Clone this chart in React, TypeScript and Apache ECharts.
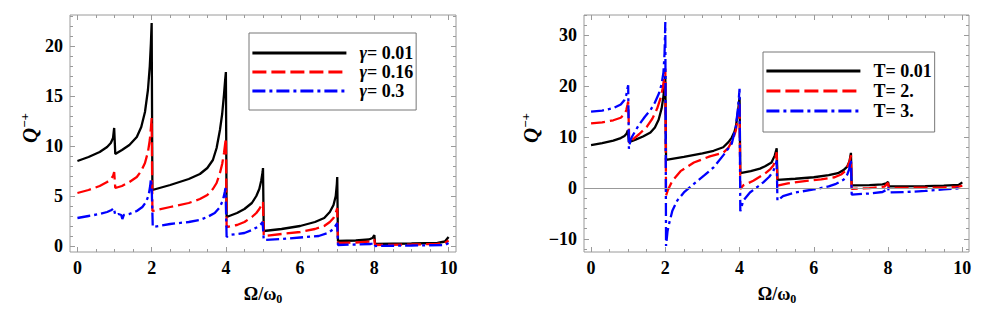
import React, { useEffect, useRef } from 'react';
import * as echarts from 'echarts';

// ---------- data ----------
const gammaNames = ['γ= 0.01', 'γ= 0.16', 'γ= 0.3'];
const tempNames = ['T= 0.01', 'T= 2.', 'T= 3.'];

const xLabelValues = [0, 2, 4, 6, 8, 10];
const leftYLabelValues = [0, 5, 10, 15, 20];
const rightYLabelValues = [-10, 0, 10, 20, 30];

// left panel: gamma = 0.01
const gamma001: number[][] = [
  [0, 8.5], [0.3, 8.9], [0.6, 9.4], [0.8, 9.9], [0.9, 10.3], [0.96, 10.8], [0.99, 11.8],
  [1.02, 9.2], [1.2, 9.6], [1.4, 10.1], [1.6, 10.9], [1.72, 11.9], [1.82, 13.4], [1.9, 15.6], [1.95, 18.0], [1.98, 20.3], [2.0, 22.3],
  [2.02, 5.6], [2.5, 6.1], [3.0, 6.7], [3.3, 7.2], [3.5, 7.8], [3.65, 8.6], [3.75, 9.8], [3.84, 11.6], [3.9, 13.2], [3.95, 15.2], [3.98, 16.6], [4.0, 17.4],
  [4.02, 2.9], [4.3, 3.3], [4.5, 3.7], [4.7, 4.3], [4.82, 5.0], [4.9, 5.7], [4.95, 6.5], [4.99, 7.4], [5.0, 7.8],
  [5.02, 1.5], [5.5, 1.7], [6.0, 2.0], [6.4, 2.4], [6.65, 2.8], [6.8, 3.4], [6.9, 4.1], [6.96, 5.0], [6.99, 6.2], [7.0, 6.9],
  [7.02, 0.5], [7.5, 0.55], [7.85, 0.65], [7.95, 0.8], [8.0, 1.1],
  [8.02, 0.2], [9.0, 0.25], [9.7, 0.3], [9.9, 0.45], [10.0, 0.9],
];
// left panel: gamma = 0.16
const gamma016: number[][] = [
  [0, 5.3], [0.3, 5.6], [0.6, 6.0], [0.8, 6.4], [0.9, 6.7], [0.96, 7.0], [0.99, 7.4],
  [1.02, 5.8], [1.2, 6.0], [1.4, 6.4], [1.6, 6.9], [1.72, 7.5], [1.82, 8.3], [1.9, 9.4], [1.95, 10.6], [1.98, 11.8], [2.0, 12.8],
  [2.02, 3.5], [2.5, 3.9], [3.0, 4.3], [3.3, 4.7], [3.5, 5.1], [3.65, 5.7], [3.75, 6.3], [3.84, 7.3], [3.9, 8.2], [3.95, 9.3], [3.98, 10.2], [4.0, 10.8],
  [4.02, 1.9], [4.3, 2.1], [4.5, 2.4], [4.7, 2.9], [4.82, 3.3], [4.9, 3.7], [4.96, 4.1], [5.0, 4.4],
  [5.02, 1.0], [5.5, 1.2], [6.0, 1.4], [6.4, 1.7], [6.65, 2.0], [6.8, 2.4], [6.9, 2.8], [6.96, 3.3], [7.0, 3.8],
  [7.02, 0.3], [7.5, 0.35], [7.9, 0.45], [8.0, 0.65],
  [8.02, 0.1], [9.0, 0.15], [9.7, 0.2], [9.9, 0.3], [10.0, 0.55],
];
// left panel: gamma = 0.3
const gamma03: number[][] = [
  [0, 2.8], [0.3, 3.0], [0.6, 3.2], [0.8, 3.4], [0.92, 3.6], [0.98, 3.8],
  [1.02, 3.1], [1.1, 3.2], [1.18, 3.1], [1.21, 2.7], [1.25, 3.1], [1.4, 3.2], [1.6, 3.5], [1.75, 3.9], [1.85, 4.4], [1.92, 5.1], [1.96, 6.0], [1.98, 6.7], [2.0, 6.0],
  [2.03, 1.9], [2.5, 2.2], [3.0, 2.4], [3.3, 2.6], [3.5, 2.9], [3.7, 3.3], [3.84, 3.9], [3.92, 4.6], [3.97, 5.4], [3.99, 5.8],
  [4.02, 0.9], [4.1, 1.1], [4.5, 1.3], [4.7, 1.6], [4.85, 1.9], [4.95, 2.2], [4.99, 2.4],
  [5.02, 0.6], [5.5, 0.7], [6.0, 0.85], [6.5, 1.0], [6.75, 1.3], [6.9, 1.7], [6.97, 2.1], [7.0, 2.3],
  [7.02, 0.1], [7.5, 0.15], [7.9, 0.2], [8.0, 0.3],
  [8.02, 0.0], [9.0, 0.05], [9.9, 0.1], [10.0, 0.3],
];
// right panel: T = 0.01
const temp001: number[][] = [
  [0, 8.4], [0.3, 8.8], [0.6, 9.3], [0.8, 9.8], [0.9, 10.2], [0.96, 10.7], [0.99, 11.3],
  [1.02, 9.0], [1.2, 9.5], [1.4, 10.1], [1.6, 10.9], [1.72, 11.9], [1.82, 13.4], [1.9, 15.6], [1.95, 18.0], [1.98, 20.3], [2.0, 22.0],
  [2.02, 5.5], [2.5, 6.1], [3.0, 6.8], [3.3, 7.3], [3.56, 8.0], [3.7, 9.0], [3.79, 9.9], [3.86, 11.0], [3.9, 12.0], [3.96, 15.2], [4.0, 17.8],
  [4.02, 2.9], [4.3, 3.3], [4.55, 3.8], [4.7, 4.3], [4.86, 5.0], [4.95, 6.4], [5.0, 7.8],
  [5.02, 1.6], [5.5, 1.8], [6.0, 2.1], [6.4, 2.5], [6.65, 2.9], [6.8, 3.5], [6.9, 4.2], [6.96, 5.2], [7.0, 6.9],
  [7.02, 0.5], [7.5, 0.55], [7.85, 0.7], [7.95, 0.9], [8.0, 1.2],
  [8.02, 0.3], [9.0, 0.35], [9.5, 0.45], [9.9, 0.6], [10.0, 1.1],
];
// right panel: T = 2
const temp2: number[][] = [
  [0, 12.7], [0.3, 12.9], [0.6, 13.3], [0.8, 13.8], [0.9, 14.5], [0.95, 15.3], [0.98, 16.3], [1.0, 17.0],
  [1.03, 8.8], [1.1, 9.4], [1.3, 10.6], [1.5, 12.0], [1.65, 13.6], [1.78, 15.6], [1.87, 17.6], [1.93, 19.6], [1.97, 21.6], [2.0, 23.5],
  [2.02, -1.5], [2.07, -0.4], [2.19, 1.4], [2.41, 3.3], [2.77, 5.0], [3.2, 6.2], [3.56, 6.9], [3.7, 7.9], [3.83, 9.7], [3.9, 11.3], [3.94, 13.3], [3.98, 15.2], [4.0, 16.9],
  [4.02, -0.2], [4.1, 0.5], [4.37, 1.4], [4.68, 2.8], [4.83, 3.7], [4.91, 4.4], [4.96, 5.5], [5.0, 7.0],
  [5.02, 0.45], [5.3, 0.9], [5.7, 1.3], [6.2, 1.7], [6.56, 2.1], [6.75, 2.7], [6.86, 3.4], [6.92, 4.4], [6.97, 5.4], [7.0, 6.4],
  [7.02, -0.2], [7.5, -0.05], [7.9, 0.25], [8.0, 1.0],
  [8.02, 0.0], [9.0, 0.05], [9.5, 0.1], [9.9, 0.25], [10.0, 0.45],
];
// right panel: T = 3
const temp3: number[][] = [
  [0, 15.0], [0.3, 15.2], [0.6, 15.7], [0.8, 16.4], [0.9, 17.3], [0.95, 18.3], [0.98, 19.5], [1.0, 20.2],
  [1.02, 7.7], [1.06, 9.4], [1.1, 10.0], [1.2, 11.3], [1.3, 12.5], [1.45, 14.0], [1.6, 15.3], [1.72, 16.8], [1.83, 18.6], [1.9, 20.4], [1.95, 22.7], [1.98, 26.5], [2.0, 32.6],
  [2.02, -11.4], [2.06, -8.5], [2.1, -7.1], [2.19, -4.5], [2.32, -2.5], [2.5, -0.9], [2.77, 0.8], [3.04, 2.4], [3.31, 4.1], [3.56, 6.4], [3.7, 7.8], [3.79, 8.7], [3.9, 12.0], [3.95, 15.2], [3.98, 17.6], [4.0, 19.5],
  [4.02, -4.6], [4.1, -2.5], [4.28, -0.9], [4.5, 0.3], [4.64, 1.1], [4.8, 2.2], [4.9, 3.2], [4.96, 4.2], [5.0, 5.4],
  [5.02, -2.5], [5.17, -1.6], [5.5, -0.9], [6.0, -0.3], [6.4, 0.3], [6.6, 0.8], [6.8, 1.6], [6.9, 2.6], [6.95, 3.6], [7.0, 5.5],
  [7.02, -1.3], [7.5, -1.1], [7.85, -0.8], [7.95, -0.4], [8.0, 0.1],
  [8.02, -0.9], [8.5, -0.8], [9.0, -0.6], [9.5, -0.3], [9.9, -0.1], [10.0, 0.1],
];

// ---------- style ----------
const FONT = "'Liberation Serif', 'Times New Roman', Times, serif";
const FRAME = '#9a9a9a';
const COLORS = ['#000000', '#ff0000', '#0000ff'];
const DASHES: any[] = ['solid', [14, 5], [13, 4, 3, 4]];
const LINE_W = 2.3;

const X_MIN = -0.2, X_MAX = 10.2;
const LY_MIN = -0.6, LY_MAX = 23.1;
const RX_MIN = -0.19, RX_MAX = 10.18;
const RY_MIN = -12.6, RY_MAX = 34.0;

function steps(a: number, b: number, s: number) {
  const out: number[] = [];
  for (let v = a; v <= b + 1e-9; v += s) out.push(Math.round(v * 100) / 100);
  return out;
}

const labelStyle = {
  color: '#000',
  fontFamily: FONT,
  fontWeight: 'bold',
  fontSize: 18,
};

function fmt(v: number) {
  return v < 0 ? '\u2212' + Math.abs(v) : String(v);
}

function mkAxis(grid: number, pos: string, min: number, max: number, ticks: number[], len: number, labels: number[] | null) {
  return {
    type: 'value',
    gridIndex: grid,
    position: pos,
    min,
    max,
    axisLine: { show: false, onZero: false },
    axisTick: { show: true, inside: true, length: len, customValues: ticks, lineStyle: { color: FRAME, width: 1 } },
    axisLabel: labels
      ? { show: true, customValues: labels, margin: 7, formatter: fmt, ...labelStyle }
      : { show: false },
    splitLine: { show: false },
  };
}

function mkSeries(name: string, data: number[][], i: number, ax: number, extra: any = {}) {
  return {
    name,
    type: 'line',
    xAxisIndex: ax,
    yAxisIndex: ax,
    data,
    symbol: 'none',
    showSymbol: false,
    smooth: false,
    clip: true,
    lineStyle: { color: COLORS[i], width: LINE_W, type: DASHES[i] },
    itemStyle: { color: COLORS[i] },
    emphasis: { disabled: true },
    ...extra,
  };
}

function legendFmt(n: string) {
  if (n.startsWith('γ')) return '{i|γ}{b|' + n.slice(1) + '}';
  return '{b|' + n + '}';
}

const legendRich = {
  i: { fontFamily: FONT, fontWeight: 'bold', fontStyle: 'italic', fontSize: 18, lineHeight: 17, color: '#000' },
  b: { fontFamily: FONT, fontWeight: 'bold', fontSize: 18, lineHeight: 17, color: '#000' },
};

function mkLegend(names: string[], left: number, top: number, padding: number[], gap: number) {
  return {
    data: names,
    left,
    top,
    orient: 'vertical',
    itemWidth: 94,
    itemHeight: 14,
    itemGap: gap,
    padding,
    borderColor: '#777',
    borderWidth: 1,
    selectedMode: false,
    itemStyle: { opacity: 0, borderWidth: 0 },
    lineStyle: { width: 2.8 },
    formatter: legendFmt,
    textStyle: { padding: [0, 0, 0, 8], lineHeight: 17, rich: legendRich },
  };
}

export default function App() {
  const ref = useRef<HTMLDivElement>(null);
  useEffect(() => {
    if (!ref.current) return;
    const chart = echarts.init(ref.current, null, { renderer: 'svg' });
    const xMajor = xLabelValues;
    const xMinor = steps(0, 10, 0.5);
    const lyMajor = leftYLabelValues;
    const lyMinor = steps(0, 23, 1);
    const ryMajor = rightYLabelValues;
    const ryMinor = steps(-12, 34, 2);

    const titleRich = {
      a: { fontFamily: FONT, fontWeight: 'bold', fontSize: 18, lineHeight: 22, fill: '#000' },
      s: { fontFamily: FONT, fontWeight: 'bold', fontSize: 12, lineHeight: 22, verticalAlign: 'bottom', fill: '#000' },
    };
    const qRich = {
      q: { fontFamily: FONT, fontWeight: 'bold', fontStyle: 'italic', fontSize: 21, lineHeight: 24, fill: '#000' },
      s: { fontFamily: FONT, fontWeight: 'bold', fontSize: 13, lineHeight: 24, verticalAlign: 'top', fill: '#000' },
    };

    const option: any = {
      animation: false,
      backgroundColor: '#ffffff',
      grid: [
        { left: 70, top: 15, width: 386, height: 237, show: true, borderColor: FRAME, borderWidth: 1, backgroundColor: 'transparent' },
        { left: 584, top: 15, width: 385, height: 237, show: true, borderColor: FRAME, borderWidth: 1, backgroundColor: 'transparent' },
      ],
      xAxis: [
        mkAxis(0, 'bottom', X_MIN, X_MAX, xMajor, 5, xLabelValues),
        mkAxis(0, 'bottom', X_MIN, X_MAX, xMinor, 3, null),
        mkAxis(0, 'top', X_MIN, X_MAX, xMajor, 5, null),
        mkAxis(0, 'top', X_MIN, X_MAX, xMinor, 3, null),
        mkAxis(1, 'bottom', RX_MIN, RX_MAX, xMajor, 5, xLabelValues),
        mkAxis(1, 'bottom', RX_MIN, RX_MAX, xMinor, 3, null),
        mkAxis(1, 'top', RX_MIN, RX_MAX, xMajor, 5, null),
        mkAxis(1, 'top', RX_MIN, RX_MAX, xMinor, 3, null),
      ],
      yAxis: [
        mkAxis(0, 'left', LY_MIN, LY_MAX, lyMajor, 5, leftYLabelValues),
        mkAxis(0, 'left', LY_MIN, LY_MAX, lyMinor, 3, null),
        mkAxis(0, 'right', LY_MIN, LY_MAX, lyMajor, 5, null),
        mkAxis(0, 'right', LY_MIN, LY_MAX, lyMinor, 3, null),
        mkAxis(1, 'left', RY_MIN, RY_MAX, ryMajor, 5, rightYLabelValues),
        mkAxis(1, 'left', RY_MIN, RY_MAX, ryMinor, 3, null),
        mkAxis(1, 'right', RY_MIN, RY_MAX, ryMajor, 5, null),
        mkAxis(1, 'right', RY_MIN, RY_MAX, ryMinor, 3, null),
      ],
      legend: [
        mkLegend(gammaNames, 249, 33, [11, 3, 10, 2], 1),
        mkLegend(tempNames, 763, 52, [10, 3, 12, 2], 2),
      ],
      graphic: [
        { type: 'text', x: 263, y: 294, style: { text: '{a|Ω/ω}{s|0}', align: 'center', verticalAlign: 'middle', rich: titleRich } },
        { type: 'text', x: 777, y: 294, style: { text: '{a|Ω/ω}{s|0}', align: 'center', verticalAlign: 'middle', rich: titleRich } },
        { type: 'text', x: 30, y: 128, rotation: Math.PI / 2, style: { text: '{q|Q}{s|\u2212+}', align: 'center', verticalAlign: 'middle', rich: qRich } },
        { type: 'text', x: 531, y: 128, rotation: Math.PI / 2, style: { text: '{q|Q}{s|\u2212+}', align: 'center', verticalAlign: 'middle', rich: qRich } },
      ],
      series: [
        mkSeries(gammaNames[0], gamma001, 0, 0),
        mkSeries(gammaNames[1], gamma016, 1, 0),
        mkSeries(gammaNames[2], gamma03, 2, 0),
        mkSeries(tempNames[0], temp001, 0, 4, {
          markLine: {
            silent: true,
            symbol: ['none', 'none'],
            label: { show: false },
            lineStyle: { color: '#999', width: 1, type: 'solid' },
            data: [{ yAxis: 0 }],
          },
        }),
        mkSeries(tempNames[1], temp2, 1, 4),
        mkSeries(tempNames[2], temp3, 2, 4),
      ],
    };
    chart.setOption(option);
    return () => chart.dispose();
  }, []);
  return (
    <div
      ref={ref}
      style={{ position: 'absolute', left: 0, top: 0, width: 981, height: 322, background: '#fff' }}
    />
  );
}
